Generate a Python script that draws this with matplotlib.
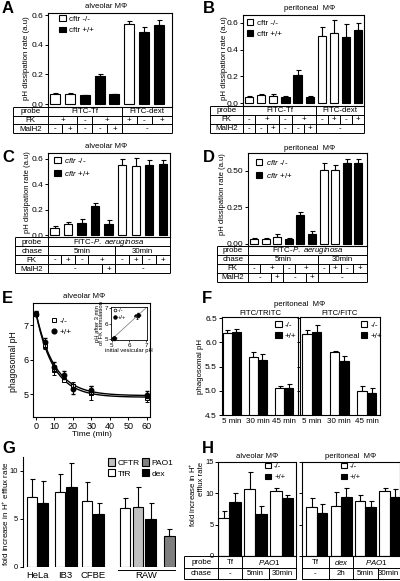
import numpy as np
import matplotlib
matplotlib.use('Agg')
import matplotlib.pyplot as plt
from matplotlib.patches import Patch
from matplotlib.lines import Line2D

# ---------------- data ----------------
# A: alveolar MΦ
a_vals = [0.07, 0.065, 0.06, 0.19, 0.065, 0.54, 0.49, 0.535]
a_err = [0.005, 0.01, 0.003, 0.01, 0.005, 0.02, 0.03, 0.03]
a_geno = ['-/-', '-/-', '+/+', '+/+', '+/+', '-/-', '+/+', '+/+']
a_probe = [(0, 4, 'FITC-Tf'), (5, 7, 'FITC-dext')]
a_fk = [(0, 1, '+'), (2, 2, '-'), (3, 4, '+'), (5, 5, '+'), (6, 6, '-'), (7, 7, '+')]
a_malh2 = [(0, 0, '-'), (1, 1, '+'), (2, 2, '-'), (3, 3, '-'), (4, 4, '+'), (5, 7, '-')]

# B: peritoneal MΦ
b_vals = [0.05, 0.06, 0.055, 0.05, 0.21, 0.045, 0.50, 0.52, 0.49, 0.545]
b_err = [0.007, 0.006, 0.012, 0.008, 0.04, 0.008, 0.07, 0.1, 0.1, 0.05]
b_geno = ['-/-', '-/-', '-/-', '+/+', '+/+', '+/+', '-/-', '-/-', '+/+', '+/+']
b_probe = [(0, 5, 'FITC-Tf'), (6, 9, 'FITC-dext')]
b_fk = [(0, 0, '-'), (1, 2, '+'), (3, 3, '-'), (4, 5, '+'), (6, 6, '-'), (7, 7, '+'), (8, 8, '-'), (9, 9, '+')]
b_malh2 = [(0, 0, '-'), (1, 1, '-'), (2, 2, '+'), (3, 3, '-'), (4, 4, '-'), (5, 5, '+'), (6, 9, '-')]

# C: alveolar MΦ, P. aeruginosa
c_vals = [0.06, 0.09, 0.095, 0.23, 0.085, 0.55, 0.54, 0.55, 0.555]
c_err = [0.015, 0.015, 0.03, 0.025, 0.035, 0.045, 0.065, 0.04, 0.035]
c_geno = ['-/-', '-/-', '+/+', '+/+', '+/+', '-/-', '-/-', '+/+', '+/+']
c_probe = [(0, 8, r'FITC-$\it{P.}$ $\it{aeruginosa}$')]
c_chase = [(0, 4, '5min'), (5, 8, '30min')]
c_fk = [(0, 0, '-'), (1, 1, '+'), (2, 2, '-'), (3, 4, '+'), (5, 5, '-'), (6, 6, '+'), (7, 7, '-'), (8, 8, '+')]
c_malh2 = [(0, 3, '-'), (4, 4, '+'), (5, 8, '-')]

# D: peritoneal MΦ, P. aeruginosa
d_vals = [0.035, 0.035, 0.05, 0.035, 0.2, 0.07, 0.505, 0.505, 0.55, 0.55]
d_err = [0.003, 0.003, 0.015, 0.003, 0.02, 0.015, 0.05, 0.035, 0.03, 0.03]
d_geno = ['-/-', '-/-', '-/-', '+/+', '+/+', '+/+', '-/-', '-/-', '+/+', '+/+']
d_probe = [(0, 9, r'FITC-$\it{P.}$ $\it{aeruginosa}$')]
d_chase = [(0, 5, '5min'), (6, 9, '30min')]
d_fk = [(0, 0, '-'), (1, 2, '+'), (3, 3, '-'), (4, 5, '+'), (6, 6, '-'), (7, 7, '+'), (8, 8, '-'), (9, 9, '+')]
d_malh2 = [(0, 1, '-'), (2, 2, '+'), (3, 4, '-'), (5, 5, '+'), (6, 9, '-')]

# E: phagosomal pH time course
e_time = [0, 5, 10, 15, 20, 30, 60]
e_ko = [7.33, 6.4, 5.7, 5.42, 5.25, 5.03, 4.9]
e_ko_err = [0.07, 0.1, 0.15, 0.08, 0.1, 0.2, 0.12]
e_wt = [7.33, 6.5, 5.8, 5.55, 5.15, 5.13, 4.98]
e_wt_err = [0.07, 0.12, 0.12, 0.12, 0.15, 0.12, 0.1]
ei_ko_x = [5.1, 6.45]
ei_ko_y = [5.1, 6.45]
ei_wt_x = [5.12, 6.5]
ei_wt_y = [5.05, 6.55]
ei_err = [0.1, 0.15]

# F: peritoneal phagosomal pH
f_groups = ['5 min', '30 min', '45 min']
f_tritc_ko = [6.2, 5.7, 5.05]
f_tritc_ko_err = [0.05, 0.1, 0.05]
f_tritc_wt = [6.22, 5.64, 5.06]
f_tritc_wt_err = [0.05, 0.12, 0.07]
f_fitc_ko = [6.17, 5.8, 5.0]
f_fitc_ko_err = [0.08, 0.02, 0.09]
f_fitc_wt = [6.21, 5.62, 4.96]
f_fitc_wt_err = [0.15, 0.09, 0.1]

# G: fold increase in H+ efflux rate by cell line
g_cells = ['HeLa', 'IB3', 'CFBE', 'RAW']
g_cell_of_bar = [0, 0, 1, 1, 2, 2, 3, 3, 3, 3]
g_probe = ['TfR', 'dex', 'TfR', 'dex', 'TfR', 'dex', 'TfR', 'CFTR', 'dex', 'PAO1']
g_vals = [7.23, 6.67, 7.75, 8.27, 6.84, 5.45, 6.15, 6.18, 4.97, 3.23]
g_err = [1.87, 2.26, 1.9, 2.5, 1.95, 1.15, 0.97, 2.1, 1.7, 0.67]

# H: fold increase in H+ efflux rate, macrophages
h_alv_ko = [6.0, 10.6, 10.4]
h_alv_ko_err = [1.1, 2.7, 0.45]
h_alv_wt = [8.55, 6.65, 9.15]
h_alv_wt_err = [1.4, 1.25, 0.6]
h_alv_probe = [(0, 0, 'Tf'), (1, 2, r'$\it{PAO1}$')]
h_alv_chase = [(0, 0, '-'), (1, 1, '5min'), (2, 2, '30min')]
h_per_ko = [7.8, 7.95, 8.75, 10.35]
h_per_ko_err = [1.5, 2.3, 1.0, 0.4]
h_per_wt = [6.9, 9.35, 7.85, 9.45]
h_per_wt_err = [1.3, 1.5, 0.85, 1.25]
h_per_probe = [(0, 0, 'Tf'), (1, 1, r'$\it{dex}$'), (2, 3, r'$\it{PAO1}$')]
h_per_chase = [(0, 0, '-'), (1, 1, '2h'), (2, 2, '5min'), (3, 3, '30min')]

# ---------------- style ----------------
plt.rcParams['font.family'] = ['Liberation Sans', 'DejaVu Sans']
plt.rcParams['mathtext.fontset'] = 'custom'
plt.rcParams['mathtext.rm'] = 'Liberation Sans'
plt.rcParams['mathtext.it'] = 'Liberation Sans:italic'
plt.rcParams['font.size'] = 6
plt.rcParams['axes.linewidth'] = 0.8
plt.rcParams['xtick.major.size'] = 2.2
plt.rcParams['ytick.major.size'] = 2.2
plt.rcParams['xtick.major.width'] = 0.7
plt.rcParams['ytick.major.width'] = 0.7
plt.rcParams['xtick.major.pad'] = 1.2
plt.rcParams['ytick.major.pad'] = 1.2
plt.rcParams['xtick.labelsize'] = 6
plt.rcParams['ytick.labelsize'] = 6

W, H = 400, 581
fig = plt.figure(figsize=(W / 100, H / 100), dpi=100)
fig.patch.set_facecolor('white')


def px_axes(x0, y0, x1, y1):
    return fig.add_axes([x0 / W, 1 - y1 / H, (x1 - x0) / W, (y1 - y0) / H])


ov = fig.add_axes([0, 0, 1, 1], zorder=10)
ov.set_xlim(0, W)
ov.set_ylim(H, 0)
ov.axis('off')
ov.patch.set_visible(False)

GENO_COL = {'-/-': 'white', '+/+': 'black'}
TBL_FS = 5.7
TTL_FS = 5.6
LAB_FS = 5.7
LEG_FS = 5.8


def bars(ax, x, vals, errs, colors, width):
    ax.bar(x, vals, width, color=colors, edgecolor='black', linewidth=0.8, zorder=2)
    ax.errorbar(x, vals, yerr=[np.zeros(len(vals)), errs], fmt='none', ecolor='black',
                elinewidth=0.8, capsize=1.8, capthick=0.8, zorder=1)


def table(ax, n, rows, top, rh, left):
    xl = ax.get_xlim()
    def px(v):
        return ax.transData.transform((v, 0))[0]
    L, R = px(xl[0]), px(xl[1])
    bounds = [L] + [px(i + 0.5) for i in range(n - 1)] + [R]
    nr = len(rows)
    kw = dict(color='black', lw=0.7, solid_capstyle='butt')
    for r in range(nr + 1):
        ov.plot([left, R], [top + r * rh] * 2, **kw)
    ov.plot([left, left], [top, top + nr * rh], **kw)
    ov.plot([R, R], [top, top + nr * rh], **kw)
    for r, (lab, spans) in enumerate(rows):
        y0 = top + r * rh
        yc = y0 + rh / 2 + 0.3
        if lab:
            ov.text((left + L) / 2, yc, lab, ha='center', va='center', fontsize=TBL_FS)
        ov.plot([L, L], [y0, y0 + rh], **kw)
        for (i, j, t) in spans:
            ov.text((bounds[i] + bounds[j + 1]) / 2, yc, t, ha='center', va='center',
                    fontsize=TBL_FS)
            if j + 1 < n:
                ov.plot([bounds[j + 1]] * 2, [y0, y0 + rh], **kw)


def geno_legend(ax, x, y, italic=False, prefix='cftr ', fs=LEG_FS):
    if italic:
        labs = [r'$\it{cftr}$ -/-', r'$\it{cftr}$ +/+']
    else:
        labs = [prefix + '-/-', prefix + '+/+']
    hs = [Patch(facecolor='white', edgecolor='black', lw=0.8),
          Patch(facecolor='black', edgecolor='black', lw=0.8)]
    ax.legend(hs, labs, loc='upper left', bbox_to_anchor=(x, y), frameon=False,
              fontsize=fs, handlelength=0.8, handleheight=0.7, handletextpad=0.4,
              labelspacing=0.45, borderaxespad=0, borderpad=0)


def rot_label(x, y, s, fs=LAB_FS):
    ov.text(x, y, s, rotation=90, ha='center', va='center', fontsize=fs)


# ---------------- A ----------------
axA = px_axes(48, 13, 172, 107)
xA = np.arange(len(a_vals))
bars(axA, xA, a_vals, a_err, [GENO_COL[g] for g in a_geno], 0.67)
axA.set_xlim(-0.47, 7.87)
axA.set_ylim(-0.02, 0.615)
axA.set_yticks([0.0, 0.2, 0.4, 0.6])
axA.set_yticklabels(['0.0', '0.2', '0.4', '0.6'])
axA.set_xticks([])
geno_legend(axA, 0.09, 0.975)
table(axA, len(a_vals), [('probe', a_probe), ('FK', a_fk), ('MalH2', a_malh2)], 107, 8.7, 13)
rot_label(27, 58, 'pH dissipation rate (a.u)')
ov.text(106, 7, 'alveolar MΦ', ha='center', va='center', fontsize=TTL_FS)

# ---------------- B ----------------
axB = px_axes(243.3, 15, 364, 106)
xB = np.arange(len(b_vals))
bars(axB, xB, b_vals, b_err, [GENO_COL[g] for g in b_geno], 0.69)
axB.set_xlim(-0.47, 9.47)
axB.set_ylim(-0.02, 0.657)
axB.set_yticks([0.0, 0.2, 0.4, 0.6])
axB.set_yticklabels(['0.0', '0.2', '0.4', '0.6'])
axB.set_xticks([])
geno_legend(axB, 0.03, 0.955)
table(axB, len(b_vals), [('probe', b_probe), ('FK', b_fk), ('MalH2', b_malh2)], 106, 9, 210)
rot_label(224, 58, 'pH dissipation rate (a.u)')
ov.text(310, 8, 'peritoneal  MΦ', ha='center', va='center', fontsize=TTL_FS)

# ---------------- C ----------------
axC = px_axes(48.3, 153, 170, 237.3)
xC = np.arange(len(c_vals))
bars(axC, xC, c_vals, c_err, [GENO_COL[g] for g in c_geno], 0.62)
axC.set_xlim(-0.47, 8.54)
axC.set_ylim(-0.016, 0.643)
axC.set_yticks([0.0, 0.2, 0.4, 0.6])
axC.set_yticklabels(['0.0', '0.2', '0.4', '0.6'])
axC.set_xticks([])
geno_legend(axC, 0.05, 0.965, italic=True)
table(axC, len(c_vals), [('probe', c_probe), ('chase', c_chase), ('FK', c_fk),
                         ('MalH2', c_malh2)], 237.3, 9, 15)
rot_label(28, 192, 'pH dissipation rate (a.u)', fs=5.5)
ov.text(106, 147, 'alveolar MΦ', ha='center', va='center', fontsize=TTL_FS)

# ---------------- D ----------------
axD = px_axes(248.3, 153.3, 367, 246)
xD = np.arange(len(d_vals))
bars(axD, xD, d_vals, d_err, [GENO_COL[g] for g in d_geno], 0.7)
axD.set_xlim(-0.5, 9.75)
axD.set_ylim(-0.014, 0.618)
axD.set_yticks([0.0, 0.25, 0.5])
axD.set_yticklabels(['0.00', '0.25', '0.50'])
axD.set_xticks([])
geno_legend(axD, 0.065, 0.95, italic=True)
table(axD, len(d_vals), [('probe', d_probe), ('chase', d_chase), ('FK', d_fk),
                         ('MalH2', d_malh2)], 246, 9, 217)
rot_label(223, 194, 'pH dissipation rate (a.u)', fs=5.5)
ov.text(310, 148, 'peritoneal  MΦ', ha='center', va='center', fontsize=TTL_FS)

# ---------------- E ----------------
axE = px_axes(33, 303, 150, 417)
t = np.asarray(e_time, float)


def fit_exp(tt, yy):
    yy = np.asarray(yy, float)
    best = None
    for tau in np.linspace(1, 40, 781):
        A = np.column_stack([np.ones_like(tt), np.exp(-tt / tau)])
        coef = np.linalg.lstsq(A, yy, rcond=None)[0]
        r = np.sum((A @ coef - yy) ** 2)
        if best is None or r < best[0]:
            best = (r, tau, coef)
    return best[1], best[2]


tfine = np.linspace(0, 60, 300)
for yy in (e_ko, e_wt):
    tau, coef = fit_exp(t, yy)
    axE.plot(tfine, coef[0] + coef[1] * np.exp(-tfine / tau), color='black', lw=1.0, zorder=2)
axE.errorbar(t, e_ko, yerr=e_ko_err, fmt='s', ms=3.0, mfc='white', mec='black', mew=0.7,
             ecolor='black', elinewidth=0.7, capsize=1.5, zorder=3)
axE.errorbar(t, e_wt, yerr=e_wt_err, fmt='o', ms=3.2, mfc='black', mec='black',
             ecolor='black', elinewidth=0.7, capsize=1.5, zorder=4)
axE.set_xlim(-1.6, 61.8)
axE.set_ylim(4.34, 7.64)
axE.set_xticks([0, 10, 20, 30, 40, 50, 60])
axE.set_yticks([5, 6, 7])
axE.tick_params(labelsize=6.5)
axE.set_xlabel('Time (min)', fontsize=6, labelpad=0.3)
hsE = [Line2D([], [], ls='none', marker='s', ms=3.0, mfc='white', mec='black', mew=0.7),
       Line2D([], [], ls='none', marker='o', ms=3.4, mfc='black', mec='black')]
axE.legend(hsE, ['-/-', '+/+'], loc='upper left', bbox_to_anchor=(0.15, 0.88), frameon=False,
           fontsize=6, handlelength=0.8, handletextpad=0.3, labelspacing=0.45,
           borderaxespad=0, borderpad=0)
rot_label(14, 362, 'phagosomal pH', fs=6.2)
ov.text(84, 297, 'alveolar MΦ', ha='center', va='center', fontsize=TTL_FS)

axI = px_axes(111, 307, 147, 340)
axI.plot([4.95, 7.05], [4.95, 7.05], color='#888888', lw=0.6, zorder=1)
axI.errorbar(ei_ko_x, ei_ko_y, xerr=ei_err, yerr=ei_err, fmt='o', ms=2.0, mfc='white',
             mec='black', mew=0.5, ecolor='black', elinewidth=0.5, capsize=0.8, zorder=3,
             clip_on=False)
axI.errorbar(ei_wt_x, ei_wt_y, xerr=ei_err, yerr=ei_err, fmt='o', ms=2.2, mfc='black',
             mec='black', ecolor='black', elinewidth=0.5, capsize=0.8, zorder=4, clip_on=False)
axI.set_xlim(4.95, 7.05)
axI.set_ylim(4.95, 7.05)
axI.set_xticks([5, 6, 7])
axI.set_yticks([5, 6, 7])
axI.tick_params(labelsize=4.5, length=1.5, pad=0.5, width=0.5)
for s in axI.spines.values():
    s.set_linewidth(0.6)
axI.set_xlabel('initial vesicular pH', fontsize=4.2, labelpad=0.3)
axI.set_ylabel('pH after 3 min\nof FK stimulation', fontsize=4.2, labelpad=0.3,
               linespacing=0.9)
hsI = [Line2D([], [], ls='none', marker='o', ms=2.0, mfc='white', mec='black', mew=0.5),
       Line2D([], [], ls='none', marker='o', ms=2.2, mfc='black', mec='black')]
axI.legend(hsI, ['-/-', '+/+'], loc='upper left', bbox_to_anchor=(0.05, 0.97), frameon=False,
           fontsize=4.3, handlelength=0.6, handletextpad=0.3, labelspacing=0.3,
           borderaxespad=0, borderpad=0)

# ---------------- F ----------------
f_sets = [((221.7, 316.7, 298.3, 415), f_tritc_ko, f_tritc_ko_err, f_tritc_wt, f_tritc_wt_err,
           'FITC/TRITC', (-0.38, 2.54), 0.7),
          ((300, 316.7, 380, 415), f_fitc_ko, f_fitc_ko_err, f_fitc_wt, f_fitc_wt_err,
           'FITC/FITC', (-0.43, 2.48), 0.76)]
for i, (rect, ko, koe, wt, wte, ttl, xl, lx) in enumerate(f_sets):
    ax = px_axes(*rect)
    xg = np.arange(len(f_groups))
    bw = 0.345
    bars(ax, xg - bw / 2, ko, koe, ['white'] * 3, bw)
    bars(ax, xg + bw / 2, wt, wte, ['black'] * 3, bw)
    ax.set_xlim(*xl)
    ax.set_ylim(4.5, 6.53)
    ax.set_yticks([4.5, 5.0, 5.5, 6.0, 6.5])
    if i == 0:
        ax.set_yticklabels(['4.5', '5.0', '5.5', '6.0', '6.5'])
    else:
        ax.set_yticklabels([])
    ax.set_xticks(xg)
    ax.set_xticklabels(f_groups, fontsize=5.8)
    ax.tick_params(axis='x', length=0, pad=2)
    geno_legend(ax, lx, 0.955, prefix='')
    ax.set_title(ttl, fontsize=TTL_FS, pad=1)
ov.text(300, 304, 'peritoneal  MΦ', ha='center', va='center', fontsize=TTL_FS)
rot_label(201, 366, 'phagosomal pH')

# ---------------- G ----------------
axG = px_axes(22.7, 456.7, 176, 566.7)
g_pos = np.array([0, 0.95, 2.5, 3.55, 4.95, 6.0, 8.4, 9.55, 10.7, 12.4])
g_colmap = {'TfR': 'white', 'dex': 'black', 'CFTR': '#c0c0c0', 'PAO1': '#7f7f7f'}
bars(axG, g_pos, g_vals, g_err, [g_colmap[p] for p in g_probe], 0.95)
axG.set_xlim(-0.85, 13.0)
axG.set_ylim(0, 11.46)
axG.set_yticks([0, 5, 10])
axG.tick_params(axis='y', labelsize=5.4)
for s in ('top', 'right', 'bottom'):
    axG.spines[s].set_visible(False)
centers = [g_pos[[k for k, c in enumerate(g_cell_of_bar) if c == ci]].mean()
           for ci in range(len(g_cells))]
axG.set_xticks(centers)
axG.set_xticklabels(g_cells, fontsize=6.8)
axG.tick_params(axis='x', length=0, pad=3)
raw_idx = [k for k, c in enumerate(g_cell_of_bar) if c == 3]
x_raw0 = axG.transData.transform((g_pos[raw_idx[0]] - 0.6, 0))[0]
x_raw1 = axG.transData.transform((g_pos[raw_idx[-1]] + 0.55, 0))[0]
ov.plot([x_raw0, x_raw1], [569.5, 569.5], color='black', lw=0.7)
hsG = [Patch(facecolor=g_colmap[k], edgecolor='black', lw=0.8) for k in ('CFTR', 'TfR', 'PAO1', 'dex')]
axG.legend(hsG, ['CFTR', 'TfR', 'PAO1', 'dex'], ncol=2, loc='upper left',
           bbox_to_anchor=(0.555, 0.985), frameon=False, fontsize=6, handlelength=0.9,
           handleheight=1.0, handletextpad=0.25, labelspacing=0.25, columnspacing=0.3,
           borderaxespad=0, borderpad=0)
rot_label(5.5, 514, 'fold increase in H$^{+}$ efflux rate', fs=5.8)

# ---------------- H ----------------
h_sets = [((218.3, 461.7, 296, 556), h_alv_ko, h_alv_ko_err, h_alv_wt, h_alv_wt_err,
           (-0.42, 2.55), h_alv_probe, h_alv_chase, 'alveolar MΦ', 0.6, 184.3),
          ((301.7, 461.7, 399.5, 556), h_per_ko, h_per_ko_err, h_per_wt, h_per_wt_err,
           (-0.62, 3.4), h_per_probe, h_per_chase, 'peritoneal  MΦ', 0.40, None)]
for i, (rect, ko, koe, wt, wte, xl, prb, chs, ttl, lx, tleft) in enumerate(h_sets):
    ax = px_axes(*rect)
    ng = len(ko)
    xg = np.arange(ng)
    bw = 0.43
    bars(ax, xg - bw / 2, ko, koe, ['white'] * ng, bw)
    bars(ax, xg + bw / 2, wt, wte, ['black'] * ng, bw)
    ax.set_xlim(*xl)
    ax.set_ylim(0, 15)
    ax.set_yticks([0, 5, 10, 15])
    ax.tick_params(axis='y', labelsize=5.4)
    if i == 1:
        ax.set_yticklabels([])
    ax.set_xticks([])
    geno_legend(ax, lx, 0.985, prefix='', fs=5.5)
    ax.set_title(ttl, fontsize=TTL_FS, pad=3)
    if tleft is None:
        tleft = ax.transData.transform((xl[0], 0))[0]
        table(ax, ng, [('', prb), ('', chs)], 556, 11.5, tleft)
    else:
        table(ax, ng, [('probe', prb), ('chase', chs)], 556, 11.5, tleft)
ov.text(196, 462, 'fold increase in H$^{+}$\nefflux rate', rotation=90, ha='center',
        va='top', multialignment='right', fontsize=5.6, linespacing=0.95)

# ---------------- panel letters ----------------
for lab, (x, y) in {'A': (2, 1), 'B': (203, 1), 'C': (2, 150), 'D': (203, 150),
                    'E': (2, 291), 'F': (202, 291), 'G': (2, 441), 'H': (202, 441)}.items():
    ov.text(x, y, lab, fontsize=12, fontweight='bold', ha='left', va='top')

fig.savefig('out.png', dpi=100)
